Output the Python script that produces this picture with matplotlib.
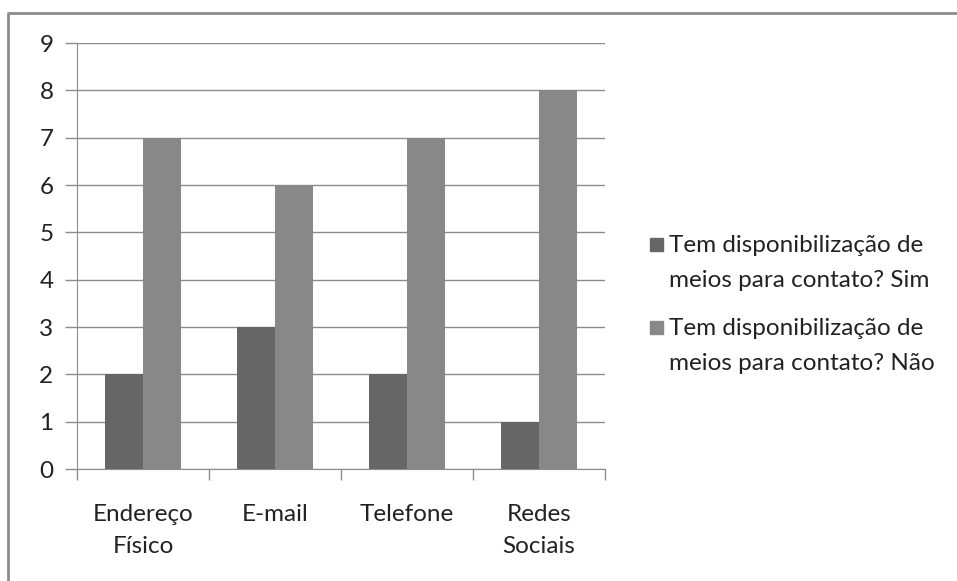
import matplotlib.pyplot as plt
import numpy as np
from matplotlib.lines import Line2D
from matplotlib.patches import Rectangle

categorias = ["Endereço\nFísico", "E-mail", "Telefone", "Redes\nSociais"]
sim = [2, 3, 2, 1]
nao = [7, 6, 7, 8]
rotulos = ["Tem disponibilização de\nmeios para contato? Sim",
           "Tem disponibilização de\nmeios para contato? Não"]
cores = ["#666666", "#888888"]

plt.rcParams['font.family'] = ['Lato', 'DejaVu Sans']

W, H = 957, 581
fig = plt.figure(figsize=(W / 100, H / 100), dpi=100)
ax = fig.add_axes([77 / W, 1 - 469 / H, (605 - 77) / W, (469 - 43) / H])

# moldura do gráfico (só topo e esquerda aparecem no recorte)
fig.lines.append(Line2D([8 / W, 8 / W, 1], [0, 1 - 13 / H, 1 - 13 / H],
                        transform=fig.transFigure, color="#8c8c8c",
                        linewidth=2))

x = np.arange(len(categorias))
w = 1 / 3.5  # espaçamento de 150%
ax.bar(x - w / 2, sim, w, color=cores[0], zorder=3)
ax.bar(x + w / 2, nao, w, color=cores[1], zorder=3)

ax.set_xlim(-0.5, len(categorias) - 0.5)
ax.set_ylim(0, 9)
ax.set_yticks(range(10))
ax.yaxis.grid(True, color="#8c8c8c", linewidth=1, zorder=0)

ax.set_xticks(np.arange(len(categorias) + 1) - 0.5)
ax.set_xticklabels([])
ax.set_xticks(x, minor=True)
ax.set_xticklabels(categorias, minor=True, fontsize=17.5, color="#222222",
                   linespacing=1.6)
ax.tick_params(axis="x", which="major", length=8, color="#8c8c8c", width=1)
ax.tick_params(axis="x", which="minor", length=0, pad=25.5)
ax.tick_params(axis="y", length=9, color="#8c8c8c", width=1, labelsize=17.5,
               labelcolor="#222222", pad=8)

for s in ["top", "right"]:
    ax.spines[s].set_visible(False)
for s in ["left", "bottom"]:
    ax.spines[s].set_color("#8c8c8c")

# legenda feita à mão: quadrado alinhado com a primeira linha do texto
for i, (rot, cor) in enumerate(zip(rotulos, cores)):
    y = 244 + i * 83  # centro da primeira linha, em pixels a partir do topo
    fig.patches.append(Rectangle((650 / W, 1 - (y + 7) / H), 13 / W, 13 / H,
                                 transform=fig.transFigure, color=cor))
    fig.text(669 / W, 1 - (y - 9) / H, rot, fontsize=17.5, color="#222222",
             va="top", ha="left", linespacing=1.85)

fig.savefig("out.png", dpi=100)
